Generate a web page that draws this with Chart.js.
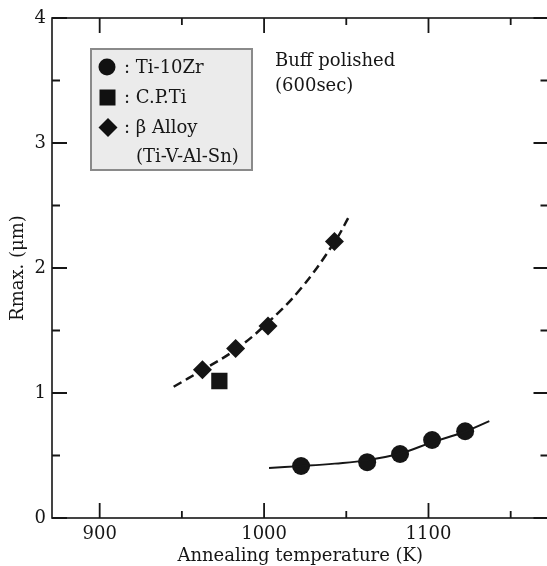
<!DOCTYPE html>
<html>
<head>
<meta charset="utf-8">
<script src="https://cdn.jsdelivr.net/npm/chart.js@4.4.0/dist/chart.umd.min.js"></script>
<style>
html,body{margin:0;padding:0;background:#fff;overflow:hidden;width:547px;height:566px;}
canvas{display:block;}
</style>
</head>
<body>
<canvas id="c" width="560" height="566"></canvas>
<script>
// ---- data ----
const tiZrT = [1022.5, 1062.7, 1082.7, 1102.2, 1122.3];
const tiZrR = [0.416, 0.447, 0.512, 0.624, 0.694];
const cpTiT = [972.8];
const cpTiR = [1.096];
const betaT = [962.5, 982.7, 1002.4, 1042.8];
const betaR = [1.186, 1.357, 1.537, 2.213];
const betaFitT = [945, 962, 983, 1002, 1022, 1043, 1052];
const betaFitR = [1.05, 1.18, 1.35, 1.56, 1.83, 2.21, 2.42];
const tiZrFitT = [1003, 1022, 1043, 1063, 1083, 1102, 1122, 1137];
const tiZrFitR = [0.40, 0.415, 0.435, 0.463, 0.518, 0.605, 0.69, 0.775];
const xMajor = [900, 1000, 1100];
const xMinor = [950, 1050, 1150];
const yMajor = [0, 1, 2, 3, 4];
const yMinor = [0.5, 1.5, 2.5, 3.5];
const legendLabels = [': Ti-10Zr', ': C.P.Ti', ': \u03B2 Alloy', '(Ti-V-Al-Sn)'];
const noteLines = ['Buff polished', '(600sec)'];
const xTitle = 'Annealing temperature (K)';
const yTitle = 'Rmax. (\u03BCm)';

const pts = (xs, ys) => xs.map((x, i) => ({x: x, y: ys[i]}));
const FONT = 'DejaVu Serif';
const INK = '#161616';

const framePlugin = {
  id: 'frame',
  beforeDatasetsDraw(chart) {
    const {ctx, chartArea: a, scales: {x, y}} = chart;
    ctx.save();
    ctx.strokeStyle = INK;
    ctx.lineWidth = 1.6;
    ctx.strokeRect(a.left, a.top, a.right - a.left, a.bottom - a.top);
    ctx.lineWidth = 1.8;
    ctx.beginPath();
    const tx = (v, len) => {
      const p = x.getPixelForValue(v);
      ctx.moveTo(p, a.bottom); ctx.lineTo(p, a.bottom - len);
      ctx.moveTo(p, a.top); ctx.lineTo(p, a.top + len);
    };
    const ty = (v, len) => {
      const p = y.getPixelForValue(v);
      ctx.moveTo(a.left, p); ctx.lineTo(a.left + len, p);
      ctx.moveTo(a.right, p); ctx.lineTo(a.right - len, p);
    };
    xMajor.forEach(v => tx(v, 15));
    xMinor.forEach(v => tx(v, 7));
    yMajor.forEach(v => ty(v, 15));
    yMinor.forEach(v => ty(v, 8));
    ctx.stroke();
    ctx.restore();
  },
  afterDatasetsDraw(chart) {
    const {ctx} = chart;
    ctx.save();
    const bx = 91, by = 49, bw = 161, bh = 121;
    ctx.fillStyle = '#ebebeb';
    ctx.fillRect(bx, by, bw, bh);
    ctx.strokeStyle = '#8a8a8a';
    ctx.lineWidth = 2;
    ctx.strokeRect(bx, by, bw, bh);
    ctx.fillStyle = '#111';
    ctx.beginPath(); ctx.arc(107, 67, 8.5, 0, Math.PI * 2); ctx.fill();
    ctx.fillRect(99.5, 89.5, 16, 16);
    ctx.beginPath();
    ctx.moveTo(108, 118); ctx.lineTo(117.5, 127.5); ctx.lineTo(108, 137); ctx.lineTo(98.5, 127.5);
    ctx.closePath(); ctx.fill();
    ctx.fillStyle = INK;
    ctx.font = '18px "' + FONT + '"';
    ctx.textBaseline = 'middle';
    ctx.textAlign = 'left';
    ctx.fillText(legendLabels[0], 124, 68);
    ctx.fillText(legendLabels[1], 124, 98);
    ctx.fillText(legendLabels[2], 124, 128);
    ctx.fillText(legendLabels[3], 136, 157);
    ctx.fillText(noteLines[0], 275, 61);
    ctx.fillText(noteLines[1], 275, 86);
    ctx.restore();
  }
};

new Chart(document.getElementById('c'), {
  type: 'scatter',
  data: {
    datasets: [
      {label: 'beta fit', data: pts(betaFitT, betaFitR), showLine: true, pointRadius: 0,
       borderColor: INK, borderWidth: 2.5, borderDash: [9, 5], tension: 0.4, fill: false},
      {label: 'TiZr fit', data: pts(tiZrFitT, tiZrFitR), showLine: true, pointRadius: 0,
       borderColor: INK, borderWidth: 2, tension: 0.4, fill: false},
      {label: 'Ti-10Zr', data: pts(tiZrT, tiZrR), pointStyle: 'circle', pointRadius: 9,
       backgroundColor: '#151515', borderColor: '#151515', borderWidth: 0},
      {label: 'C.P.Ti', data: pts(cpTiT, cpTiR), pointStyle: 'rect', pointRadius: 11.5,
       backgroundColor: '#151515', borderColor: '#151515', borderWidth: 0},
      {label: 'beta', data: pts(betaT, betaR), pointStyle: 'rectRot', pointRadius: 9.5,
       backgroundColor: '#151515', borderColor: '#151515', borderWidth: 0}
    ]
  },
  options: {
    responsive: false,
    animation: false,
    events: [],
    layout: {padding: {top: 18, right: 7, left: 0, bottom: 0}},
    plugins: {legend: {display: false}, tooltip: {enabled: false}},
    scales: {
      x: {
        type: 'linear', position: 'bottom', min: 871, max: 1173,
        grid: {display: false, drawTicks: false},
        border: {display: false},
        afterBuildTicks: s => { s.ticks = xMajor.map(v => ({value: v})); },
        ticks: {padding: 6, color: INK, autoSkip: false, callback: v => String(v),
                font: {family: FONT, size: 18}, maxRotation: 0},
        title: {display: true, text: xTitle, color: INK, font: {family: FONT, size: 18, lineHeight: 1.1},
                padding: {top: 0, bottom: 0}},
        afterFit: s => { s.height = 48; }
      },
      y: {
        type: 'linear', position: 'left', min: 0, max: 4,
        grid: {display: false, drawTicks: false},
        border: {display: false},
        afterBuildTicks: s => { s.ticks = yMajor.map(v => ({value: v})); },
        ticks: {padding: 6, color: INK, autoSkip: false, callback: v => String(v),
                font: {family: FONT, size: 18}},
        title: {display: true, text: yTitle, color: INK, font: {family: FONT, size: 18, lineHeight: 1.1},
                padding: {top: 8, bottom: 0}},
        afterFit: s => { s.width = 52; }
      }
    }
  },
  plugins: [framePlugin]
});
</script>
</body>
</html>
